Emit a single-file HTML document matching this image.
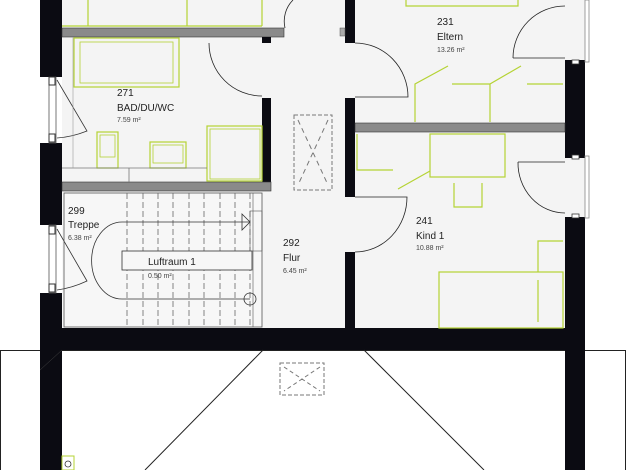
<!DOCTYPE html>
<html><head><meta charset="utf-8"><style>
html,body{margin:0;padding:0;background:#fff;}
svg{display:block;}
text{font-family:"Liberation Sans",sans-serif;fill:#222;}
.s{font-size:7px;fill:#444;}
.m{font-size:10px;}
</style></head><body>
<svg width="626" height="470" viewBox="0 0 626 470" xmlns="http://www.w3.org/2000/svg">
<!-- interior -->
<rect x="62" y="0" width="503" height="330" fill="#f4f4f4"/>
<rect x="62" y="191" width="200" height="137" fill="#f7f7f7"/>
<!-- lower outline -->
<rect x="0.5" y="350.5" width="625" height="130" fill="#fff" stroke="#222" stroke-width="1"/>
<!-- outer walls -->
<rect x="40" y="0" width="22" height="470" fill="#0b0b12"/>
<rect x="565" y="0" width="20" height="470" fill="#0b0b12"/>
<rect x="40" y="328" width="545" height="22" fill="#0b0b12"/>
<line x1="263" y1="350" x2="145" y2="470" stroke="#222" stroke-width="1"/>
<line x1="364" y1="350" x2="484" y2="470" stroke="#222" stroke-width="1"/>
<rect x="280" y="363" width="44" height="32" fill="none" stroke="#777" stroke-dasharray="4,2"/>
<path d="M284 367 L320 391 M320 367 L284 391" stroke="#777" stroke-dasharray="4,3"/>
<rect x="62" y="456" width="12" height="14" fill="#fff" stroke="#b5d334"/>
<circle cx="68" cy="464" r="3" fill="none" stroke="#333" stroke-width="0.8"/>
<!-- left windows -->
<rect x="40" y="77" width="22" height="66" fill="#fff"/>
<rect x="49" y="77" width="7" height="66" fill="#fff" stroke="#555" stroke-width="0.8"/>
<rect x="49" y="77" width="6" height="8" fill="#fff" stroke="#333"/>
<rect x="49" y="134" width="6" height="8" fill="#fff" stroke="#333"/>
<path d="M57 80 L87 131 Q72 137 57 138" fill="none" stroke="#333" stroke-width="0.8"/>
<rect x="40" y="225" width="22" height="68" fill="#fff"/>
<rect x="49" y="225" width="7" height="68" fill="#fff" stroke="#555" stroke-width="0.8"/>
<rect x="49" y="226" width="6" height="8" fill="#fff" stroke="#333"/>
<rect x="49" y="284" width="6" height="8" fill="#fff" stroke="#333"/>
<path d="M57 229 L87 281 Q72 288 57 290" fill="none" stroke="#333" stroke-width="0.8"/>
<!-- right windows -->
<rect x="565" y="0" width="20" height="60" fill="#f4f4f4"/>
<rect x="585" y="0" width="4" height="62" fill="#fff" stroke="#888" stroke-width="0.8"/>
<rect x="565" y="158" width="20" height="59" fill="#f4f4f4"/>
<rect x="585" y="156" width="4" height="62" fill="#fff" stroke="#888" stroke-width="0.8"/>
<rect x="572" y="60" width="7" height="4" fill="#fff" stroke="#333" stroke-width="0.8"/>
<rect x="572" y="155" width="7" height="4" fill="#fff" stroke="#333" stroke-width="0.8"/>
<rect x="572" y="214" width="7" height="4" fill="#fff" stroke="#333" stroke-width="0.8"/>
<path d="M513 58 L565 58 M513 58 A52 52 0 0 1 565 6" fill="none" stroke="#222" stroke-width="0.8"/>
<path d="M518 162 L565 162 M518 162 A47 50 0 0 0 565 213" fill="none" stroke="#222" stroke-width="0.8"/>
<!-- interior walls -->
<rect x="62" y="28" width="222" height="9" fill="#8a8a8a" stroke="#333" stroke-width="0.6"/>
<rect x="262" y="37" width="9" height="6" fill="#0b0b12"/>
<rect x="262" y="98" width="9" height="93" fill="#0b0b12"/>
<rect x="62" y="182" width="209" height="9" fill="#8a8a8a" stroke="#333" stroke-width="0.6"/>
<rect x="345" y="0" width="10" height="43" fill="#0b0b12"/>
<rect x="340" y="28" width="5" height="8" fill="#aaa" stroke="#555" stroke-width="0.5"/>
<rect x="345" y="98" width="10" height="99" fill="#0b0b12"/>
<rect x="345" y="252" width="10" height="78" fill="#0b0b12"/>
<rect x="355" y="123" width="210" height="9" fill="#8a8a8a" stroke="#333" stroke-width="0.6"/>
<!-- doors -->
<path d="M209 43 A53 53 0 0 0 262 96" fill="none" stroke="#222" stroke-width="0.8"/>
<path d="M355 43 A53 54 0 0 1 408 97 L355 97" fill="none" stroke="#222" stroke-width="0.8"/>
<path d="M355 197 L407 197 A52 55 0 0 1 355 252" fill="none" stroke="#222" stroke-width="0.8"/>
<path d="M293 0 A30 30 0 0 0 285 28" fill="none" stroke="#222" stroke-width="0.8"/>
<!-- flur skylight -->
<rect x="294" y="115" width="38" height="75" fill="none" stroke="#777" stroke-dasharray="4,2"/>
<path d="M298 120 L328 185 M328 120 L298 185" stroke="#777" stroke-dasharray="5,4"/>
<!-- furniture green -->
<g fill="none" stroke="#b5d334" stroke-width="1.2">
<path d="M88 0 V26 M187 0 V26 M262 0 V26 M62 26 H262"/>
<rect x="74" y="38" width="105" height="49"/>
<rect x="80" y="42" width="93" height="41" stroke-width="0.8"/>
<rect x="97" y="132" width="21" height="36"/>
<rect x="100" y="135" width="15" height="22" stroke-width="0.8"/>
<rect x="150" y="142" width="36" height="26"/>
<rect x="153" y="145" width="30" height="18" stroke-width="0.8"/>
<rect x="207" y="126" width="55" height="55"/>
<rect x="210" y="129" width="50" height="50" stroke-width="0.8"/>
<path d="M406 0 V6 H518 V0"/>
<path d="M415 122 V84 L448 66 M452 84 H490 M490 122 V84 L521 66 M527 84 H563"/>
<path d="M357 134 V170 H393 M398 189 L430 171"/>
<rect x="430" y="134" width="75" height="43"/>
<path d="M454 183 V207 H482 V183"/>
<rect x="439" y="272" width="124" height="56"/>
<path d="M538 272 V241 H563 M538 280 V322"/>
</g>
<line x1="62" y1="168" x2="207" y2="168" stroke="#777" stroke-width="0.8"/>
<line x1="129" y1="168" x2="129" y2="182" stroke="#777" stroke-width="0.8"/>
<line x1="73" y1="37" x2="73" y2="168" stroke="#999" stroke-width="0.6"/>
<!-- stairs -->
<rect x="64" y="193" width="198" height="134" fill="none" stroke="#555" stroke-width="0.8"/>
<g stroke="#666" stroke-width="0.8" stroke-dasharray="6,3">
<path d="M127 193 V327 M143 193 V327 M158 193 V327 M173 193 V327 M189 193 V327 M204 193 V327 M220 193 V327 M235 193 V327 M250 193 V327"/>
</g>
<line x1="253" y1="193" x2="253" y2="327" stroke="#555" stroke-width="0.6"/>
<rect x="122" y="251" width="130" height="19" fill="#f7f7f7" stroke="#333" stroke-width="0.8"/>
<path d="M250 222 H122 A30 38 0 0 0 122 299 H250" fill="none" stroke="#333" stroke-width="0.8"/>
<rect x="250" y="211" width="12" height="40" fill="none" stroke="#555" stroke-width="0.6"/>
<path d="M242 214 L250 222 L242 230 Z" fill="none" stroke="#333" stroke-width="0.8"/>
<circle cx="250" cy="299" r="6" fill="none" stroke="#333" stroke-width="0.8"/>
<line x1="62" y1="350" x2="40" y2="370" stroke="#444" stroke-width="0.5"/>
<!-- labels -->
<text class="m" x="117" y="96">271</text>
<text class="m" x="117" y="111">BAD/DU/WC</text>
<text class="s" x="117" y="122">7.59 m²</text>
<text class="m" x="68" y="214">299</text>
<text class="m" x="68" y="228">Treppe</text>
<text class="s" x="68" y="240">6.38 m²</text>
<text class="m" x="148" y="265">Luftraum 1</text>
<text class="s" x="148" y="278">0.50 m²</text>
<text class="m" x="283" y="246">292</text>
<text class="m" x="283" y="261">Flur</text>
<text class="s" x="283" y="273">6.45 m²</text>
<text class="m" x="437" y="25">231</text>
<text class="m" x="437" y="40">Eltern</text>
<text class="s" x="437" y="52">13.26 m²</text>
<text class="m" x="416" y="224">241</text>
<text class="m" x="416" y="239">Kind 1</text>
<text class="s" x="416" y="250">10.88 m²</text>
</svg>
</body></html>
